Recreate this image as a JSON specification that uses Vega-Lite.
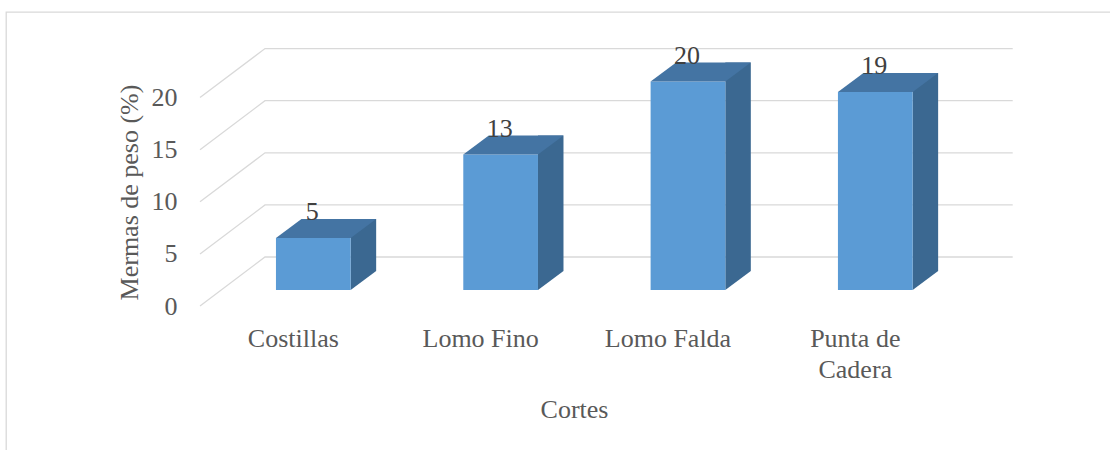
{
  "$schema": "https://vega.github.io/schema/vega-lite/v6.json",
  "autosize": "none",
  "padding": {"left": 6, "top": 12, "right": 0, "bottom": 0},
  "width": 1104,
  "height": 438,
  "background": "white",
  "config": {
    "view": {"stroke": "#d9d9d9", "strokeWidth": 1.3, "strokeDash": [1104, 1542, 438]},
    "font": "Liberation Serif"
  },
  "datasets": {
    "bars": [
      {"Corte": "Costillas", "Merma": 5},
      {"Corte": "Lomo Fino", "Merma": 13},
      {"Corte": "Lomo Falda", "Merma": 20},
      {"Corte": "Punta de Cadera", "Merma": 19}
    ],
    "grid": [
      {"tick": 0}, {"tick": 5}, {"tick": 10}, {"tick": 15}, {"tick": 20}
    ]
  },
  "data": {"name": "bars"},
  "encoding": {
    "x": {
      "field": "Corte", "type": "nominal", "sort": null,
      "scale": {"type": "band", "range": [213.65, 962.95], "paddingInner": 0, "paddingOuter": 0},
      "axis": {
        "title": "Cortes", "orient": "bottom", "domain": false, "ticks": false, "grid": false,
        "labelAngle": 0, "labelFont": "Liberation Serif", "labelFontSize": 26, "labelColor": "#595959",
        "labelOffset": -20, "labelPadding": 0, "labelBaseline": "alphabetic", "labelLineHeight": 31,
        "labelExpr": "datum.value == 'Punta de Cadera' ? ['Punta de', 'Cadera'] : datum.label",
        "labelOverlap": false, "labelBound": false, "labelFlush": false, "labelLimit": 0,
        "offset": -104,
        "titleFont": "Liberation Serif", "titleFontSize": 26, "titleFontWeight": "normal", "titleColor": "#595959",
        "titleX": 568, "titleY": 71, "titleBaseline": "alphabetic", "titleAlign": "center"
      }
    },
    "y": {
      "field": "Merma", "type": "quantitative",
      "scale": {"domain": [0, 20], "range": [278, 69.6], "nice": false, "zero": false},
      "axis": {
        "title": "Mermas de peso (%)", "orient": "left", "domain": false, "ticks": false, "grid": false,
        "values": [0, 5, 10, 15, 20],
        "labelFont": "Liberation Serif", "labelFontSize": 26, "labelColor": "#595959",
        "labelOffset": 16, "labelPadding": 0, "labelBaseline": "middle", "labelAlign": "right",
        "labelOverlap": false, "labelBound": false, "labelFlush": false,
        "offset": -171,
        "titleFont": "Liberation Serif", "titleFontSize": 26, "titleFontWeight": "normal", "titleColor": "#595959",
        "titleX": -40, "titleY": 180, "titleAngle": 270, "titleBaseline": "alphabetic", "titleAlign": "center"
      }
    }
  },
  "layer": [
    {
      "data": {"name": "grid"},
      "mark": {"type": "point", "shape": "M-113.3,16L-48.3,-33L699.4,-33", "size": 4, "filled": false, "stroke": "#d9d9d9", "strokeWidth": 1.3, "opacity": 1},
      "encoding": {
        "x": {"datum": "Costillas"},
        "y": {"field": "tick", "type": "quantitative"}
      }
    },
    {
      "mark": {"type": "bar", "size": 25.5, "xOffset": 50.1, "yOffset": -19, "y2Offset": -19, "color": "#3b6891"}
    },
    {
      "mark": {"type": "point", "shape": "M37.35,0L62.85,-19L37.35,-19Z", "size": 4, "filled": true, "color": "#3b6891", "opacity": 1},
      "encoding": {"y": {"datum": 0}}
    },
    {
      "mark": {"type": "bar", "size": 74.7, "color": "#5b9bd5"}
    },
    {
      "mark": {"type": "point", "shape": "M-37.35,0L37.35,0L62.85,-19L-11.85,-19Z", "size": 4, "filled": true, "color": "#4474a3", "opacity": 1}
    },
    {
      "mark": {"type": "text", "font": "Liberation Serif", "fontSize": 26, "color": "#404040", "baseline": "alphabetic", "align": "center", "dy": -17.6, "dx": -1},
      "encoding": {"text": {"field": "Merma", "type": "quantitative"}}
    }
  ]
}
